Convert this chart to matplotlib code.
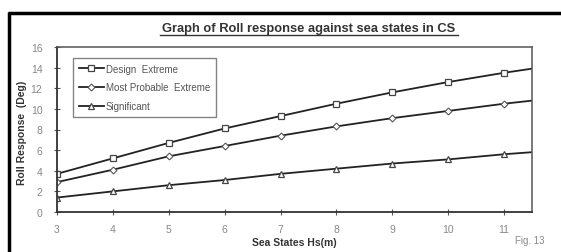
import matplotlib.pyplot as plt
from matplotlib.lines import Line2D

plt.rcParams['font.family'] = ['Liberation Sans', 'DejaVu Sans']

sea_states = [3, 4, 5, 6, 7, 8, 9, 10, 11, 11.5]
design_extreme = [3.7, 5.2, 6.7, 8.1, 9.3, 10.5, 11.6, 12.6, 13.5, 13.9]
most_probable = [2.9, 4.1, 5.4, 6.4, 7.4, 8.3, 9.1, 9.8, 10.5, 10.8]
significant = [1.4, 2.0, 2.6, 3.1, 3.7, 4.2, 4.7, 5.1, 5.6, 5.8]

W, H = 561, 253
fig = plt.figure(figsize=(W / 100, H / 100), dpi=100)
ax = fig.add_axes([57 / W, 1 - 213 / H, 475 / W, 165 / H])

marks = list(range(9))
ax.plot(sea_states, design_extreme, color='#222222', lw=1.3, marker='s', ms=5,
        mfc='white', mec='#444444', mew=0.9, markevery=marks, label='Design  Extreme')
ax.plot(sea_states, most_probable, color='#222222', lw=1.3, marker='D', ms=3.5,
        mfc='white', mec='#555555', mew=0.8, markevery=marks, label='Most Probable  Extreme')
ax.plot(sea_states, significant, color='#222222', lw=1.3, marker='^', ms=5,
        mfc='white', mec='#444444', mew=0.9, markevery=marks, label='Significant')

ax.set_xlim(3, 11.5)
ax.set_ylim(0, 16)
ax.set_xticks(range(3, 12))
ax.set_yticks(range(0, 17, 2))
ax.tick_params(direction='inout', length=5, width=0.8, color='#555555',
               labelsize=7.5, labelcolor='#888888')
ax.tick_params(axis='x', pad=6)
ax.tick_params(axis='y', pad=8)
for s in ['left', 'bottom']:
    ax.spines[s].set_color('#333333')
    ax.spines[s].set_linewidth(1.3)
for s in ['top', 'right']:
    ax.spines[s].set_color('#555555')
    ax.spines[s].set_linewidth(1.1)

leg = ax.legend(loc='upper left', bbox_to_anchor=(11 / 475, 1 - 6 / 165), fontsize=7,
                frameon=True, fancybox=False, edgecolor='#666666', handlelength=2.6,
                labelspacing=0.9, borderpad=0.6, handletextpad=0.2)
for t in leg.get_texts():
    t.set_color('#555555')

fig.text(22 / W, 1 - 133 / H, 'Roll Response  (Deg)', ha='center', va='center', rotation=90,
         fontsize=7.5, fontweight='bold', color='#333333')
fig.text(294 / W, 1 - 243 / H, 'Sea States Hs(m)', ha='center', va='center',
         fontsize=7.5, fontweight='bold', color='#333333')
fig.text(530 / W, 1 - 241 / H, 'Fig. 13', ha='center', va='center', fontsize=7, color='#888888')

fig.text(309 / W, 1 - 29 / H, 'Graph of Roll response against sea states in CS',
         ha='center', va='center', fontsize=9.3, fontweight='bold', color='#333333')
fig.add_artist(Line2D([160 / W, 458 / W], [1 - 36 / H, 1 - 36 / H], color='#333333', lw=1.0))

# outer frame (top and left)
fig.add_artist(Line2D([7.5 / W, 1.0], [1 - 13.5 / H, 1 - 13.5 / H], color='black', lw=2.5,
                      solid_capstyle='butt'))
fig.add_artist(Line2D([8.5 / W, 8.5 / W], [0, 1 - 12.5 / H], color='black', lw=2.5,
                      solid_capstyle='butt'))

fig.savefig('out.png', dpi=100)
